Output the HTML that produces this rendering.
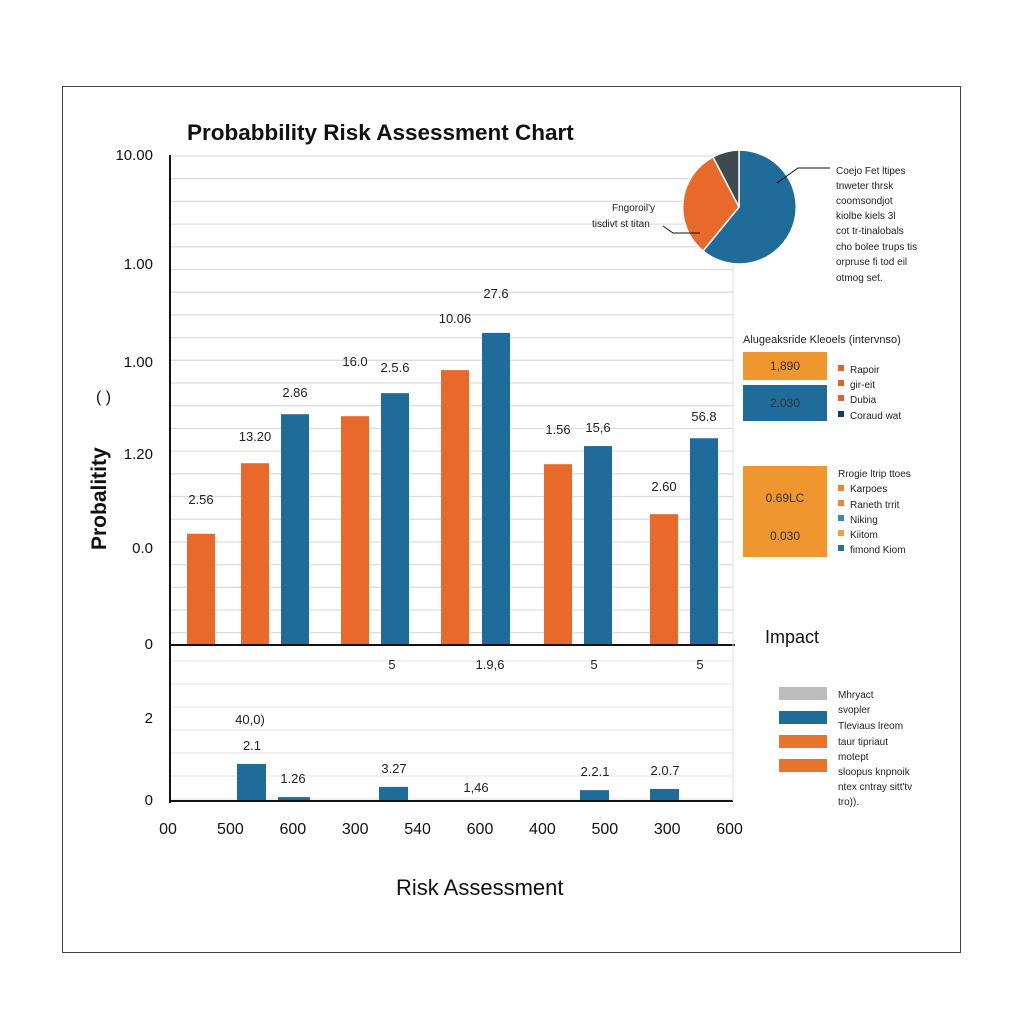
<!DOCTYPE html>
<html><head><meta charset="utf-8"><style>
html,body{margin:0;padding:0;background:#fff;}
svg{display:block;font-family:"Liberation Sans",sans-serif;}
</style></head><body>
<svg id="c" width="1024" height="1024" viewBox="0 0 1024 1024">
<rect x="62.5" y="86.5" width="898" height="866" fill="#fff" stroke="#444" stroke-width="1"/>
<text x="187" y="140" font-size="22.5" font-weight="bold" fill="#111">Probabbility Risk Assessment Chart</text>
<g id="grid"></g>
<g id="bars"></g>
<g id="labels"></g>
<line x1="170" y1="155" x2="170" y2="803" stroke="#111" stroke-width="2"/>
<line x1="170" y1="645" x2="735" y2="645" stroke="#111" stroke-width="2"/>
<line x1="170" y1="801" x2="733" y2="801" stroke="#111" stroke-width="2"/>
<line x1="733" y1="260" x2="733" y2="801" stroke="#ddd" stroke-width="1"/>
<text transform="translate(106,550) rotate(-90)" font-size="21" font-weight="bold" fill="#111">Probalitity</text>
<text x="96" y="402" font-size="16" fill="#111">( )</text>
<text x="396" y="895" font-size="22" fill="#111">Risk Assessment</text>
<g>
<path d="M739,207 L739,150 A57,57 0 1 1 703,251 Z" fill="#1f6b99" stroke="#fff" stroke-width="1.5"/>
<path d="M739,207 L703,251 A57,57 0 0 1 713,157 Z" fill="#e8692a" stroke="#fff" stroke-width="1.5"/>
<path d="M739,207 L713,157 A57,57 0 0 1 739,150 Z" fill="#3e4a50" stroke="#fff" stroke-width="1.5"/>
<polyline points="663,226 673,233 700,233" fill="none" stroke="#111"/>
<polyline points="777,183 798,168 830,168" fill="none" stroke="#111"/>
</g>
<g font-size="10" fill="#222">
<text x="612" y="211">Fngoroil'y</text>
<text x="592" y="227">tisdivt st titan</text>
<text x="836" y="174">Coejo Fet ltipes</text>
<text x="836" y="189">tnweter thrsk</text>
<text x="836" y="204">coomsondjot</text>
<text x="836" y="219">kiolbe kiels 3l</text>
<text x="836" y="234">cot tr-tinalobals</text>
<text x="836" y="250">cho bolee trups tis</text>
<text x="836" y="265">orpruse fi tod eil</text>
<text x="836" y="281">otmog set.</text>
</g>
<g>
<text x="743" y="343" font-size="11" fill="#222">Alugeaksride Kleoels (intervnso)</text>
<rect x="743" y="352" width="84" height="28" fill="#f0962f"/>
<text x="785" y="370" font-size="12" fill="#333" text-anchor="middle">1,890</text>
<rect x="743" y="385" width="84" height="36" fill="#1f6b99"/>
<text x="785" y="407" font-size="12" fill="#333" text-anchor="middle">2.030</text>
<g font-size="10" fill="#222">
<rect x="838" y="365" width="6" height="6" fill="#d9662c"/><text x="850" y="373">Rapoir</text>
<rect x="838" y="380" width="6" height="6" fill="#d9662c"/><text x="850" y="388">gir-eit</text>
<rect x="838" y="395" width="6" height="6" fill="#d9662c"/><text x="850" y="403">Dubia</text>
<rect x="838" y="411" width="6" height="6" fill="#123c66"/><text x="850" y="419">Coraud wat</text>
</g></g>
<g>
<rect x="743" y="466" width="84" height="91" fill="#f0962f"/>
<text x="785" y="502" font-size="12" fill="#333" text-anchor="middle">0.69LC</text>
<text x="785" y="540" font-size="12" fill="#333" text-anchor="middle">0.030</text>
<g font-size="10" fill="#222">
<text x="838" y="477">Rrogie ltrip ttoes</text>
<rect x="838" y="485" width="6" height="6" fill="#e8892f"/><text x="850" y="492">Karpoes</text>
<rect x="838" y="500" width="6" height="6" fill="#e8892f"/><text x="850" y="508">Raneth trrit</text>
<rect x="838" y="515" width="6" height="6" fill="#3a8ab0"/><text x="850" y="523">Niking</text>
<rect x="838" y="530" width="6" height="6" fill="#f0a040"/><text x="850" y="538">Kiitom</text>
<rect x="838" y="545" width="6" height="6" fill="#2b6e98"/><text x="850" y="553">fimond Kiom</text>
</g></g>
<text x="765" y="643" font-size="18" fill="#111">Impact</text>
<g>
<rect x="779" y="687" width="48" height="13" fill="#bdbdbd"/>
<rect x="779" y="711" width="48" height="13" fill="#1f6b99"/>
<rect x="779" y="735" width="48" height="13" fill="#e8732a"/>
<rect x="779" y="759" width="48" height="13" fill="#e8732a"/>
<g font-size="10" fill="#222">
<text x="838" y="698">Mhryact</text><text x="838" y="713">svopler</text>
<text x="838" y="729">Tleviaus lreom</text><text x="838" y="745">taur tipriaut</text>
<text x="838" y="760">motept</text><text x="838" y="775">sloopus knpnoik</text>
<text x="838" y="790">ntex cntray sitt'tv</text><text x="838" y="805">tro)).</text>
</g></g>
<script>
const upperValues=[2.27,3.71,4.71,4.67,5.14,5.61,6.37,3.69,4.06,2.67,4.22];
const upperSeries=["o","o","b","o","b","o","b","o","b","o","b"];
const upperLabels=["2.56","13.20","2.86","16.0","2.5.6","10.06","27.6","1.56","15,6","2.60","56.8"];
const lowerValues=[0.88,0.07,0.32,0.24,0.27];
const lowerLabels=["2.1","1.26","3.27","2.2.1","2.0.7"];
const upperTicks=["10.00","1.00","1.00","1.20","0.0","0"];
const lowerTicks=["2","0"];
const xTicks=["00","500","600","300","540","600","400","500","300","600"];
const NS="http://www.w3.org/2000/svg";
const upperX=i=>[187,241,281,341,381,441,482,544,584,650,690][i];
const yU=v=>645-v*49;
const yL=v=>800-v*41;
const lowerX=i=>[237,278,379,580,650][i];
function mk(tag,attrs,parent,txt){const e=document.createElementNS(NS,tag);for(const k in attrs)e.setAttribute(k,attrs[k]);if(txt!==undefined)e.textContent=txt;document.getElementById(parent).appendChild(e);return e;}
for(let y=156;y<640;y+=22.7){const l=mk('line',{x1:170,x2:733,y1:y,y2:y,stroke:'#ddd','stroke-width':1.3},'grid');

}
for(let y=661;y<800;y+=23){const l=mk('line',{x1:170,x2:733,y1:y,y2:y,stroke:'#e4e4e4','stroke-width':1},'grid');

}
upperValues.forEach((v,i)=>{
const b=mk('rect',{x:upperX(i),y:yU(v),width:28,height:645-yU(v),fill:upperSeries[i]==='o'?'#e8692a':'#1f6b99'},'bars');


const t=mk('text',{x:upperX(i)+14,y:yU(v)-(i===0?30:i===1?22:i===3?50:i===4?21:i===5?47:i===6?35:i===7?30:i===8?14:i===9?23:17),'font-size':13,fill:'#222','text-anchor':'middle'},'labels',upperLabels[i]);


});
lowerValues.forEach((v,i)=>{
const b=mk('rect',{x:lowerX(i),y:yL(v),width:i===1?32:29,height:800-yL(v),fill:'#1f6b99'},'bars');


const t=mk('text',{x:lowerX(i)+15,y:yL(v)-14,'font-size':13,fill:'#222','text-anchor':'middle'},'labels',lowerLabels[i]);


});
[["40,0)",250,724],["1,46",476,792],["5",392,669],["1.9,6",490,669],["5",594,669],["5",700,669]].forEach(a=>{
const t=mk('text',{x:a[1],y:a[2],'font-size':13,fill:'#222','text-anchor':'middle'},'labels',a[0]);

});
const uY=[160,269,367,459,553,649];
upperTicks.forEach((s,i)=>{const t=mk('text',{x:153,y:uY[i],'font-size':15,fill:'#111','text-anchor':'end'},'labels',s);

});
const lY=[723,805];
lowerTicks.forEach((s,i)=>{const t=mk('text',{x:153,y:lY[i],'font-size':15,fill:'#111','text-anchor':'end'},'labels',s);

});
xTicks.forEach((s,i)=>{const t=mk('text',{x:168+i*62.4,y:834,'font-size':16,fill:'#111','text-anchor':'middle'},'labels',s);

});
</script>
</svg>
</body></html>
